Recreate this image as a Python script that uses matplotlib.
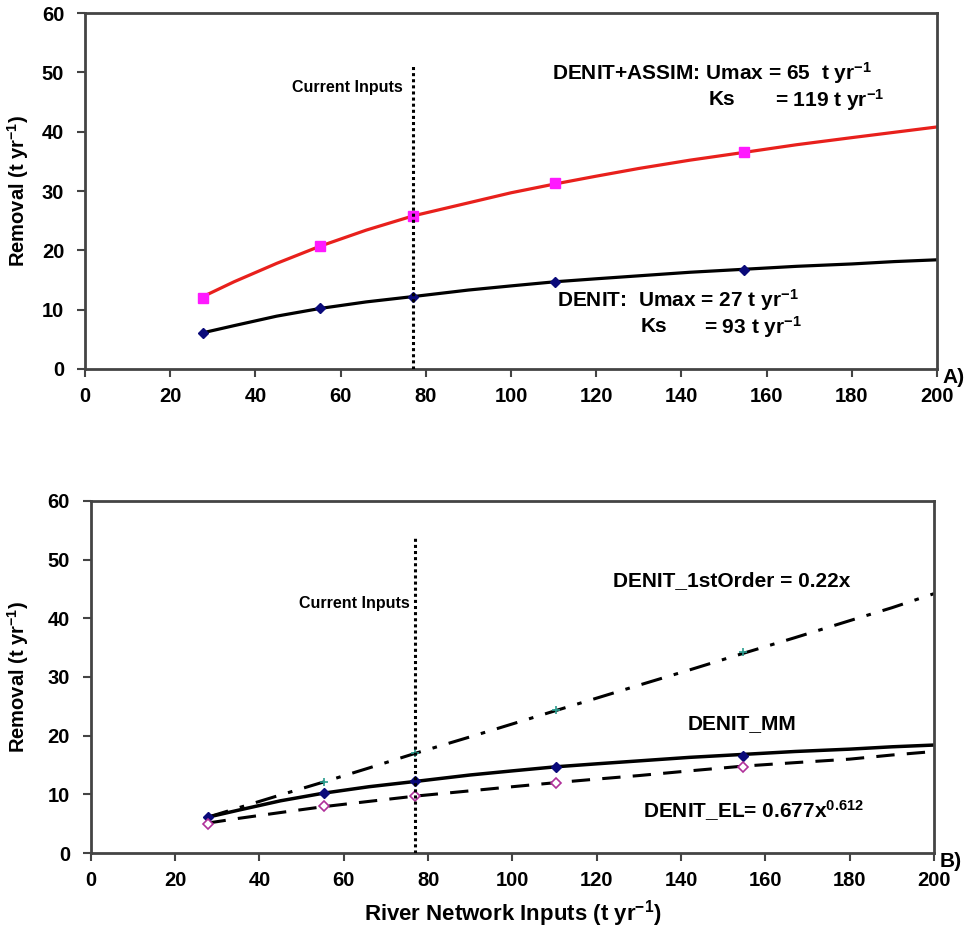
import numpy as np
import matplotlib
matplotlib.use('Agg')
import matplotlib.pyplot as plt

plt.rcParams['font.family'] = ['Liberation Sans', 'DejaVu Sans']
plt.rcParams['font.weight'] = 'bold'
plt.rcParams['mathtext.fontset'] = 'custom'
plt.rcParams['mathtext.bf'] = 'Liberation Sans:bold'
plt.rcParams['mathtext.rm'] = 'Liberation Sans:bold'
plt.rcParams['mathtext.default'] = 'bf'

# river network inputs (t/yr) at the model points
inputs = [27.7, 55.2, 77.0, 110.4, 154.6]
assim_pts = [12.0, 20.7, 25.8, 31.4, 36.6]
denit_pts = [6.1, 10.2, 12.2, 14.7, 16.6]
first_pts = [6.1, 12.1, 17.0, 24.4, 34.2]
el_pts = [5.0, 8.0, 9.7, 12.0, 14.7]

# fitted curves
curve_x = [27.7, 35, 45, 55.2, 66, 77.0, 90, 100, 110.4, 120, 130, 142, 154.6, 167, 180, 190, 200]
assim_curve = [12.2, 14.7, 17.8, 20.7, 23.4, 25.8, 28.0, 29.7, 31.2, 32.5, 33.8, 35.2, 36.5,
               37.8, 39.0, 39.9, 40.8]
denit_curve = [6.1, 7.3, 8.9, 10.2, 11.3, 12.2, 13.3, 14.0, 14.7, 15.2, 15.7, 16.3, 16.8,
               17.3, 17.7, 18.1, 18.4]
first_curve = [6.1, 7.7, 9.9, 12.1, 14.5, 17.0, 19.8, 22.0, 24.3, 26.4, 28.6, 31.2, 34.0,
               36.7, 39.6, 41.8, 44.2]
el_curve = [5.1, 5.9, 6.9, 7.9, 8.8, 9.7, 10.6, 11.3, 12.0, 12.6, 13.2, 14.0, 14.8,
            15.4, 16.0, 16.7, 17.3]

current_inputs = 77.0

ylab = 'Removal (t yr$^{-1}$)'
spine_col = '#444444'


def style_axes(ax):
    ax.set_xlim(0, 200)
    ax.set_ylim(0, 60)
    ax.set_xticks(np.arange(0, 201, 20))
    ax.set_yticks(np.arange(0, 61, 10))
    for s in ax.spines.values():
        s.set_color(spine_col)
        s.set_linewidth(2)
    ax.tick_params(direction='out', length=6, width=1.5, color=spine_col,
                   labelsize=14.5)
    ax.tick_params(axis='y', pad=9)
    ax.tick_params(axis='x', pad=7)
    for lab in ax.get_xticklabels() + ax.get_yticklabels():
        lab.set_fontweight('bold')
    ax.set_ylabel(ylab, fontsize=14.5, fontweight='bold')


fig = plt.figure(figsize=(9.66, 9.34), dpi=100)

# ---- panel A
ax1 = fig.add_axes([0.088, 0.605, 0.882, 0.381])
ax1.plot(curve_x, assim_curve, color='#e8201c', lw=2.3, zorder=2)
ax1.plot(curve_x, denit_curve, color='black', lw=2.3, zorder=2)
ax1.plot(inputs, assim_pts, ls='none', marker='s', ms=7, color='#ff19ff', zorder=3)
ax1.plot(inputs, denit_pts, ls='none', marker='D', ms=5.5, color='#0a0a7a', zorder=3)
ax1.plot([current_inputs, current_inputs], [0, 51], color='black', lw=2.2,
         ls=(0, (1, 1)), zorder=4)
ax1.text(74.7, 47.4, 'Current Inputs', ha='right', va='center', fontsize=11.5)
ax1.text(109.7, 49.9, 'DENIT+ASSIM: Umax = 65  t yr$^{-1}$', va='center', fontsize=15)
ax1.text(146.4, 45.4, 'Ks', va='center', fontsize=15)
ax1.text(162.0, 45.4, '= 119 t yr$^{-1}$', va='center', fontsize=15)
ax1.text(110.9, 11.6, 'DENIT:  Umax = 27 t yr$^{-1}$', va='center', fontsize=15)
ax1.text(130.4, 7.1, 'Ks', va='center', fontsize=15)
ax1.text(145.2, 7.1, '= 93 t yr$^{-1}$', va='center', fontsize=15)
style_axes(ax1)
ax1.yaxis.set_label_coords(-0.063, 0.5)
ax1.text(1.006, -0.025, 'A)', transform=ax1.transAxes, fontsize=15, va='center')

# ---- panel B
ax2 = fig.add_axes([0.094, 0.0867, 0.873, 0.377])
ax2.plot(curve_x, first_curve, color='black', lw=2.2, ls=(0, (7, 4, 1.5, 4)), zorder=2)
ax2.plot(curve_x, denit_curve, color='black', lw=2.5, zorder=2)
ax2.plot(curve_x, el_curve, color='black', lw=2.2, ls=(0, (6, 4)), zorder=2)
ax2.plot(inputs, first_pts, ls='none', marker='+', ms=6, mew=1.2, color='#2a9d8f', zorder=3)
ax2.plot(inputs, denit_pts, ls='none', marker='D', ms=5.5, color='#0a0a7a', zorder=3)
ax2.plot(inputs, el_pts, ls='none', marker='D', ms=5.5, mfc='white', mec='#b0309a',
         mew=1.2, zorder=3)
ax2.plot([current_inputs, current_inputs], [0, 54], color='black', lw=2.2,
         ls=(0, (1, 1)), zorder=4)
ax2.text(75.7, 42.6, 'Current Inputs', ha='right', va='center', fontsize=11.5)
ax2.text(123.8, 46.5, 'DENIT_1stOrder = 0.22x', va='center', fontsize=15)
ax2.text(141.6, 22.1, 'DENIT_MM', va='center', fontsize=15)
ax2.text(131.0, 7.3, 'DENIT_EL= 0.677x$^{0.612}$', va='center', fontsize=15)
style_axes(ax2)
ax2.yaxis.set_label_coords(-0.071, 0.5)
ax2.set_xlabel('River Network Inputs (t yr$^{-1}$)', fontsize=16, fontweight='bold',
               labelpad=6)
ax2.text(1.006, -0.025, 'B)', transform=ax2.transAxes, fontsize=15, va='center')

fig.savefig('out.png', dpi=100)
